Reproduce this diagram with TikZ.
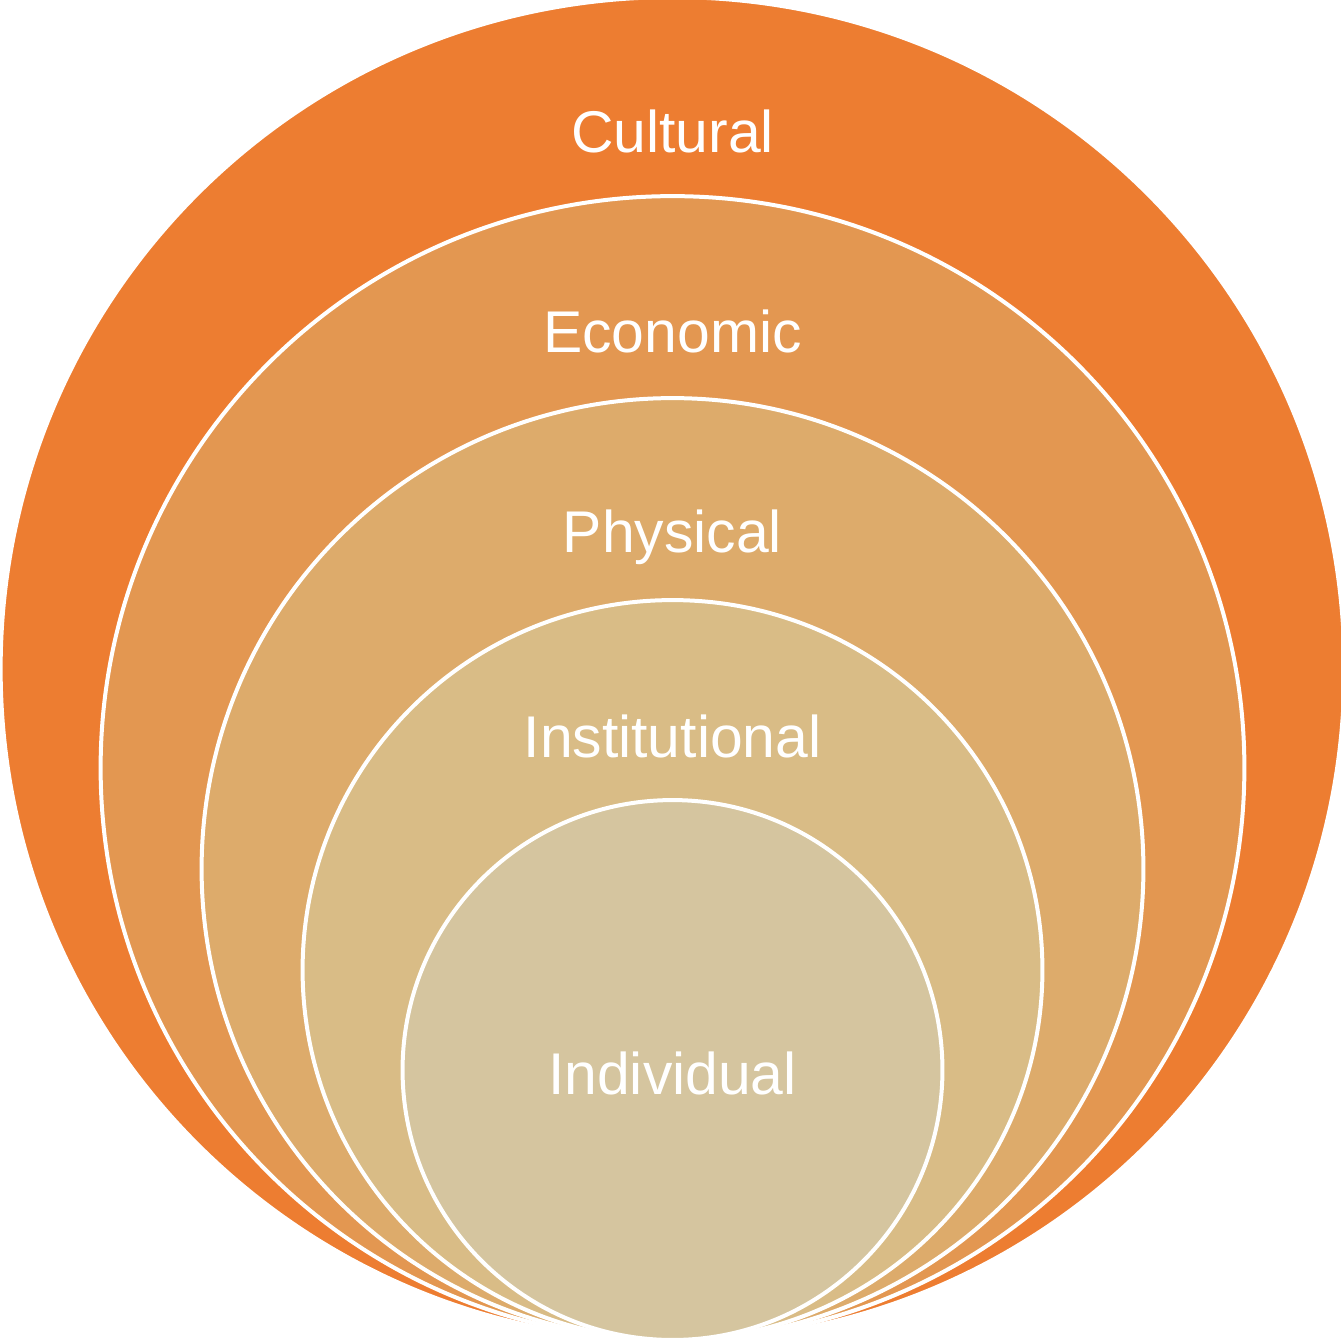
\documentclass[tikz,border=0pt]{standalone}
\usepackage{fontspec}
\setmainfont{Liberation Sans}
\definecolor{cCult}{HTML}{ED7D31}
\definecolor{cEcon}{HTML}{E39751}
\definecolor{cPhys}{HTML}{DDAB6B}
\definecolor{cInst}{HTML}{D9BC86}
\definecolor{cIndi}{HTML}{D5C59F}
\begin{document}
\begin{tikzpicture}[x=0.02cm,y=-0.02cm,
  ring/.style={circle, inner sep=0pt, draw=white, line width=0.08cm},
  lbl/.style={text=white, font=\fontsize{33.5}{40}\selectfont, anchor=base, inner sep=0pt}]
\useasboundingbox (0,0) rectangle (1341,1340);
\node[ring, fill=cCult, minimum size=26.88cm] (cult) at (672.5,669) {};
\node[ring, fill=cEcon, minimum size=22.88cm] (econ) at (672.5,768) {};
\node[ring, fill=cPhys, minimum size=18.84cm] (phys) at (672.5,869) {};
\node[ring, fill=cInst, minimum size=14.80cm] (inst) at (672.5,970) {};
\node[ring, fill=cIndi, minimum size=10.80cm] (indi) at (672.5,1070) {};
\node[lbl] (tcult) at (672.5,152) {Cultural};
\node[lbl] (tecon) at (672.5,352) {Economic};
\node[lbl] (tphys) at (672.5,552) {Physical};
\node[lbl] (tinst) at (672.5,757) {Institutional};
\node[lbl] (tindi) at (672.5,1094) {Individual};
\end{tikzpicture}
\end{document}
